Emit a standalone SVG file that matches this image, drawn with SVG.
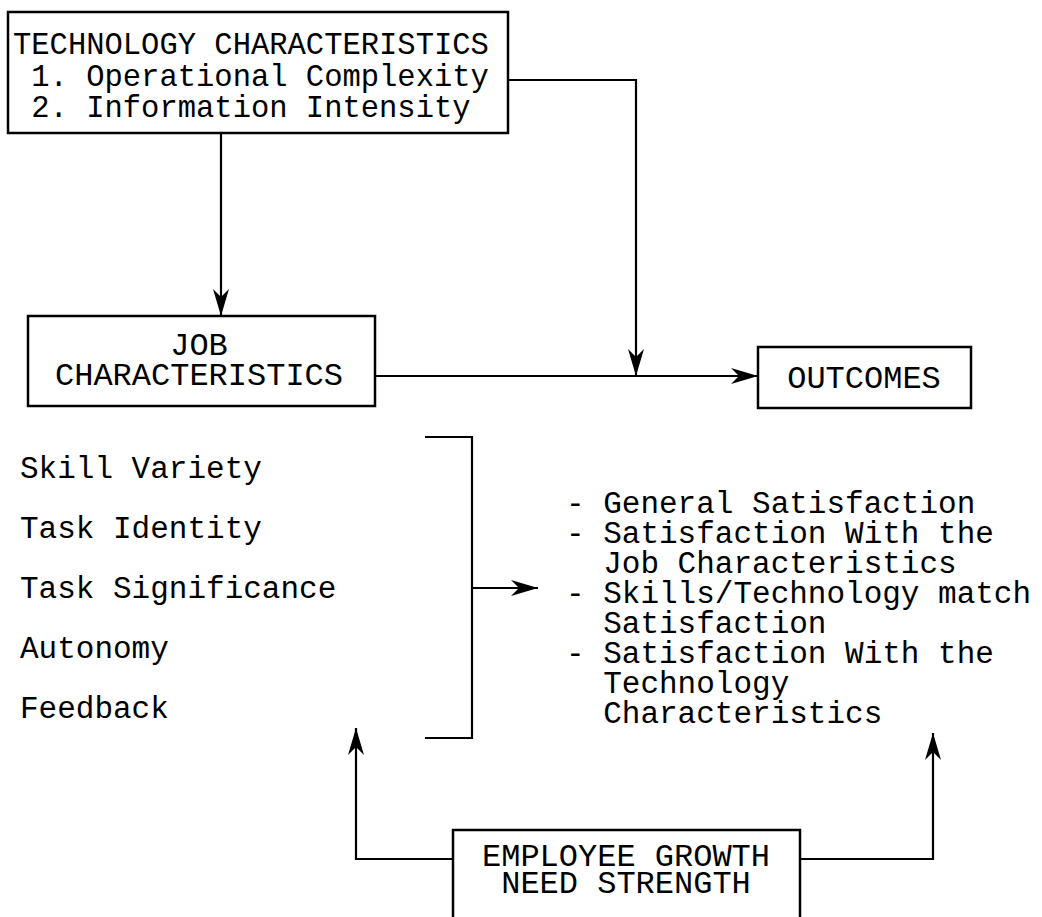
<svg xmlns="http://www.w3.org/2000/svg" width="1042" height="917" viewBox="0 0 1042 917">
  <style>
    .box { fill: #fff; stroke: #000; stroke-width: 2.5; }
    .wire { fill: none; stroke: #000; stroke-width: 2.2; }
    .t { font-family: "Liberation Mono", "Courier New", monospace; font-size: 32px; fill: #000; }
    .ts { font-family: "Liberation Mono", "Courier New", monospace; font-size: 30.5px; fill: #000; }
    .tl { font-family: "Liberation Mono", "Courier New", monospace; font-size: 31px; fill: #000; }
  </style>
  <defs>
    <marker id="arrow" markerUnits="userSpaceOnUse" markerWidth="30" markerHeight="20" refX="28" refY="10" orient="auto">
      <path d="M28,10 L1,2 L9,10 L1,18 Z" fill="#000"/>
    </marker>
  </defs>
  <rect width="1042" height="917" fill="#fff"/>

  <g id="connectors">
    <path class="wire" d="M221,133 V316" marker-end="url(#arrow)"/>
    <path class="wire" d="M508,80 H636 V376" marker-end="url(#arrow)"/>
    <path class="wire" d="M375,376 H758" marker-end="url(#arrow)"/>
    <path class="wire" d="M425,437 H472 V738 H425"/>
    <path class="wire" d="M472,588 H538" marker-end="url(#arrow)"/>
    <path class="wire" d="M453,859 H356 V728" marker-end="url(#arrow)"/>
    <path class="wire" d="M800,859 H933 V733" marker-end="url(#arrow)"/>
  </g>

  <g id="technology">
    <rect class="box" x="8" y="12" width="500" height="121"/>
    <text class="ts" x="13" y="54">TECHNOLOGY CHARACTERISTICS</text>
    <text class="ts" x="13" y="86" xml:space="preserve"> 1. Operational Complexity</text>
    <text class="ts" x="13" y="117" xml:space="preserve"> 2. Information Intensity</text>
  </g>

  <g id="job">
    <rect class="box" x="28" y="316" width="347" height="90"/>
    <text class="t" x="199" y="355" text-anchor="middle">JOB</text>
    <text class="t" x="199" y="385" text-anchor="middle">CHARACTERISTICS</text>
  </g>

  <g id="outcomes">
    <rect class="box" x="758" y="347" width="213" height="61"/>
    <text class="t" x="864" y="388" text-anchor="middle">OUTCOMES</text>
  </g>

  <g id="dimensions">
    <text class="tl" x="20" y="478">Skill Variety</text>
    <text class="tl" x="20" y="538">Task Identity</text>
    <text class="tl" x="20" y="598">Task Significance</text>
    <text class="tl" x="20" y="658">Autonomy</text>
    <text class="tl" x="20" y="718">Feedback</text>
  </g>

  <g id="outcome-list">
    <text class="tl" x="566" y="513">- General Satisfaction</text>
    <text class="tl" x="566" y="543">- Satisfaction With the</text>
    <text class="tl" x="566" y="573" xml:space="preserve">  Job Characteristics</text>
    <text class="tl" x="566" y="603">- Skills/Technology match</text>
    <text class="tl" x="566" y="633" xml:space="preserve">  Satisfaction</text>
    <text class="tl" x="566" y="663">- Satisfaction With the</text>
    <text class="tl" x="566" y="693" xml:space="preserve">  Technology</text>
    <text class="tl" x="566" y="723" xml:space="preserve">  Characteristics</text>
  </g>

  <g id="growth">
    <rect class="box" x="453" y="830" width="347" height="100"/>
    <text class="t" x="626" y="866" text-anchor="middle">EMPLOYEE GROWTH</text>
    <text class="t" x="626" y="893" text-anchor="middle">NEED STRENGTH</text>
  </g>
</svg>
